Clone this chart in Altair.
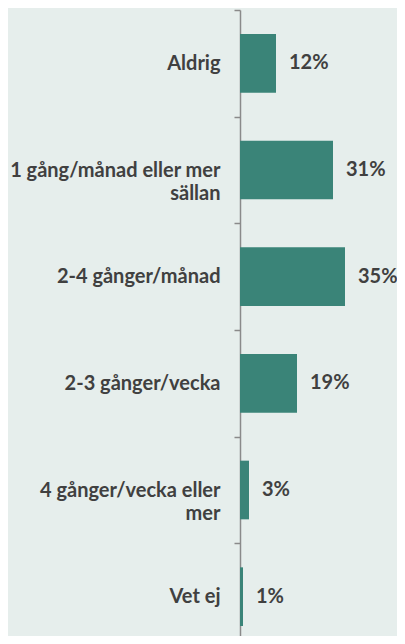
import altair as alt
import pandas as pd

categories = [
    "Aldrig",
    "1 gång/månad eller mer\nsällan",
    "2-4 gånger/månad",
    "2-3 gånger/vecka",
    "4 gånger/vecka eller\nmer",
    "Vet ej",
]
values = [12, 31, 35, 19, 3, 1]
value_labels = ["12%", "31%", "35%", "19%", "3%", "1%"]

df = pd.DataFrame({"category": categories, "value": values, "label": value_labels})

BG = "#e6eeec"
BAR = "#3a8478"
TXT = "#404040"
AXC = "#8a8a8a"
FONT = "Lato"

y_enc = alt.Y(
    "category:N",
    sort=categories,
    scale=alt.Scale(paddingInner=0, paddingOuter=0, range=[0, 640]),
    axis=alt.Axis(
        title=None,
        labelExpr="split(datum.label, '\\n')",
        labelFont=FONT,
        labelFontWeight="bold",
        labelFontSize=20,
        labelColor=TXT,
        labelLineHeight=23,
        labelPadding=14,
        labelLimit=400,
        tickBand="extent",
        tickSize=6,
        tickColor=AXC,
        domainColor=AXC,
        domainWidth=1.5,
        tickWidth=1.5,
        grid=False,
    ),
)

x_enc = alt.X(
    "value:Q",
    scale=alt.Scale(domain=[0, 40]),
    axis=None,
)

bars = alt.Chart(df).mark_bar(
    color=BAR, height=alt.RelativeBandSize(0.55)
).encode(y=y_enc, x=x_enc)

text = alt.Chart(df).mark_text(
    align="left", baseline="middle", dx=13, font=FONT, fontWeight="bold",
    fontSize=20, color=TXT
).encode(y=alt.Y("category:N", sort=categories), x="value:Q", text="label:N")

chart = (
    alt.layer(bars, text)
    .properties(
        width=120,
        height=626,
        background=BG,
        autosize=alt.AutoSizeParams(type="none"),
        padding={"left": 232, "top": 2, "right": 37, "bottom": 0},
    )
    .configure_view(stroke=None)
)

chart.save("out.html", embed_options={"renderer": "svg", "actions": False})
